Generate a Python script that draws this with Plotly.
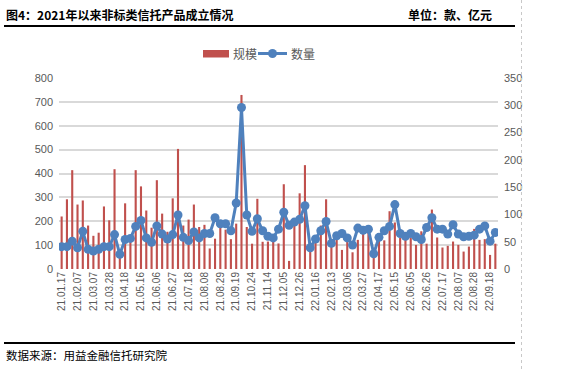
import plotly.graph_objects as go

categories = [
    "21.01.17", "21.01.24", "21.01.31", "21.02.07", "21.02.21", "21.02.28", "21.03.07", "21.03.14",
    "21.03.21", "21.03.28", "21.04.04", "21.04.11", "21.04.18", "21.04.25", "21.05.09", "21.05.16",
    "21.05.23", "21.05.30", "21.06.06", "21.06.13", "21.06.20", "21.06.27", "21.07.04", "21.07.11",
    "21.07.18", "21.07.25", "21.08.01", "21.08.08", "21.08.15", "21.08.22", "21.08.29", "21.09.05",
    "21.09.12", "21.09.19", "21.09.26", "21.10.17", "21.10.24", "21.10.31", "21.11.07", "21.11.14",
    "21.11.21", "21.11.28", "21.12.05", "21.12.12", "21.12.19", "21.12.26", "22.01.02", "22.01.09",
    "22.01.16", "22.01.23", "22.01.30", "22.02.13", "22.02.20", "22.02.27", "22.03.06", "22.03.13",
    "22.03.20", "22.03.27", "22.04.03", "22.04.10", "22.04.17", "22.04.24", "22.05.08", "22.05.15",
    "22.05.22", "22.05.29", "22.06.05", "22.06.12", "22.06.19", "22.06.26", "22.07.03", "22.07.10",
    "22.07.17", "22.07.24", "22.07.31", "22.08.07", "22.08.14", "22.08.21", "22.08.28", "22.09.04",
    "22.09.11", "22.09.18", "22.09.25",
]

scale_values = [
    220, 292, 414, 270, 287, 182, 139, 152, 262, 204, 418, 50, 275, 115, 414, 346,
    245, 173, 372, 232, 156, 296, 503, 182, 207, 270, 176, 185, 86, 127, 193, 165,
    125, 190, 729, 176, 106, 294, 114, 115, 123, 107, 355, 34, 193, 317, 435, 80,
    115, 182, 292, 94, 122, 80, 115, 70, 122, 158, 165, 75, 122, 120, 242, 195,
    130, 130, 130, 101, 158, 106, 249, 132, 90, 97, 115, 101, 73, 94, 168, 122,
    125, 59, 106,
]

count_values = [
    41, 41, 51, 39, 69, 36, 33, 36, 41, 41, 63, 27, 54, 56, 78, 89,
    57, 49, 79, 64, 55, 63, 99, 58, 52, 68, 57, 65, 65, 94, 83, 83,
    70, 121, 296, 99, 69, 92, 70, 60, 57, 73, 104, 80, 86, 91, 116, 39,
    55, 70, 87, 47, 61, 65, 57, 44, 75, 71, 73, 28, 58, 70, 78, 118,
    65, 60, 65, 59, 54, 76, 94, 73, 73, 64, 81, 64, 59, 60, 62, 73,
    79, 51, 67,
]

tick_labels = categories[::3]
series_names = ["规模", "数量"]

W, H = 562, 371
L, R, T, B = 59, 64, 78, 102
PW, PH = W - L - R, H - T - B

RED = "#C0504D"
BLUE = "#4F81BD"


def px(x):
    return (x - L) / PW


def py(y):
    return (H - B - y) / PH


CJK = "Noto Sans CJK SC"
GRAY = "#595959"

fig = go.Figure()
fig.add_trace(go.Bar(
    x=categories, y=scale_values, name=series_names[0],
    marker=dict(color=RED, line=dict(width=0)),
    yaxis="y", showlegend=False,
))
fig.add_trace(go.Scatter(
    x=categories, y=count_values, name=series_names[1], mode="lines+markers",
    line=dict(color=BLUE, width=3),
    marker=dict(color=BLUE, size=9),
    yaxis="y2", showlegend=False,
))

fig.update_layout(
    width=W, height=H,
    margin=dict(l=L, r=R, t=T, b=B, pad=0),
    paper_bgcolor="white", plot_bgcolor="white",
    bargap=0.6,
    font=dict(family="Liberation Sans, " + CJK, color=GRAY, size=11),
    xaxis=dict(
        type="category", tickmode="array", tickvals=tick_labels, ticktext=tick_labels,
        tickangle=-90, tickfont=dict(size=10, color=GRAY, family="Liberation Sans"),
        showgrid=False, showline=False, ticks="", range=[-0.5, len(categories) - 0.5],
        automargin=False,
    ),
    yaxis=dict(
        range=[0, 800], dtick=100, showgrid=True, gridcolor="#D9D9D9", gridwidth=1.5,
        zeroline=False, showline=False, ticks="", tickfont=dict(size=11, color=GRAY),
        color=GRAY, automargin=False, ticklabelstandoff=5,
    ),
    yaxis2=dict(
        range=[0, 350], dtick=50, overlaying="y", side="right", showgrid=False,
        zeroline=False, showline=False, ticks="", tickfont=dict(size=11, color=GRAY),
        color=GRAY, automargin=False, ticklabelstandoff=5,
    ),
    showlegend=False,
)

# legend drawn as decoration above the plot
fig.add_shape(type="rect", xref="paper", yref="paper", x0=px(203), x1=px(229), y0=py(50), y1=py(57.5),
              fillcolor=RED, line=dict(width=0))
fig.add_annotation(text=series_names[0], xref="paper", yref="paper", x=px(231), y=py(53.5),
                   xanchor="left", yanchor="middle", showarrow=False,
                   font=dict(family=CJK, size=12, color=GRAY))
fig.add_shape(type="line", xref="paper", yref="paper", x0=px(258), x1=px(287), y0=py(53.5), y1=py(53.5),
              line=dict(color=BLUE, width=3))
fig.add_shape(type="circle", xref="paper", yref="paper", x0=px(268), x1=px(277), y0=py(49), y1=py(58),
              fillcolor=BLUE, line=dict(width=0))
fig.add_annotation(text=series_names[1], xref="paper", yref="paper", x=px(289), y=py(53.5),
                   xanchor="left", yanchor="middle", showarrow=False,
                   font=dict(family=CJK, size=12, color=GRAY))

fig.add_annotation(
    text="<b>图4：2021年以来非标类信托产品成立情况</b>", xref="paper", yref="paper",
    x=px(4), y=py(14), xanchor="left", yanchor="middle", showarrow=False,
    font=dict(family=CJK, size=12, color="black"),
)
fig.add_annotation(
    text="<b>单位：款、亿元</b>", xref="paper", yref="paper",
    x=px(494), y=py(14), xanchor="right", yanchor="middle", showarrow=False,
    font=dict(family=CJK, size=12, color="black"),
)
fig.add_annotation(
    text="数据来源：用益金融信托研究院", xref="paper", yref="paper",
    x=px(4), y=py(355), xanchor="left", yanchor="middle", showarrow=False,
    font=dict(family=CJK, size=11.5, color="black"),
)
fig.add_shape(type="line", xref="paper", yref="paper", x0=px(4), x1=px(515), y0=py(26), y1=py(26),
              line=dict(color="black", width=2))
fig.add_shape(type="line", xref="paper", yref="paper", x0=px(4), x1=px(515), y0=py(343), y1=py(343),
              line=dict(color="black", width=2))
fig.add_shape(type="line", xref="paper", yref="paper", x0=px(521.5), x1=px(521.5), y0=py(0), y1=py(371),
              line=dict(color="#C8C8C8", width=1, dash="dot"))

fig.write_html(
    "out.html",
    config={"displayModeBar": False},
    post_script="document.body.style.margin='0';document.body.style.overflow='hidden';",
)
